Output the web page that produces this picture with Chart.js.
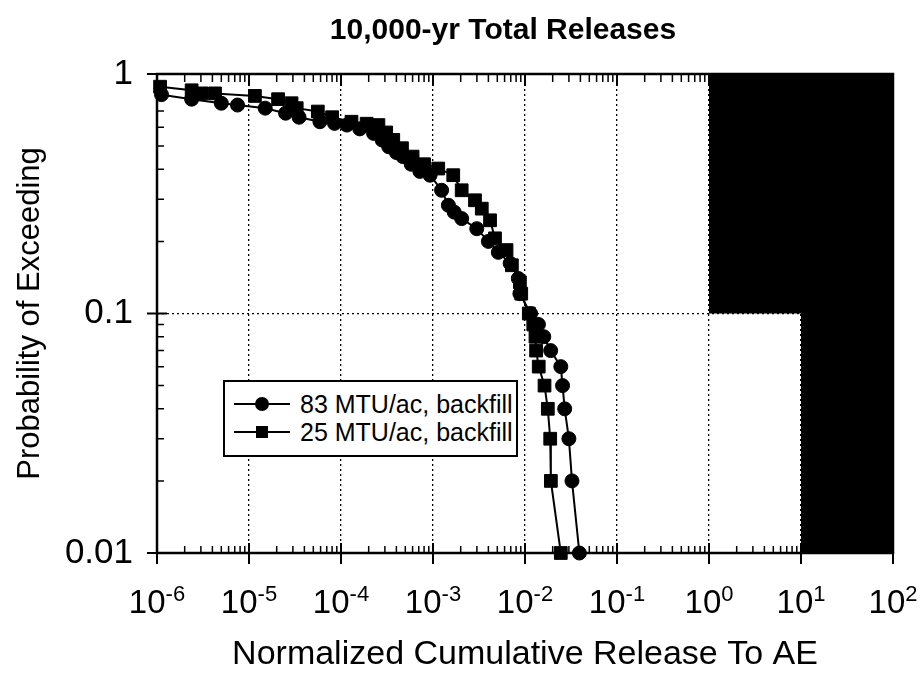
<!DOCTYPE html>
<html>
<head>
<meta charset="utf-8">
<script src="https://cdn.jsdelivr.net/npm/chart.js@4.4.1/dist/chart.umd.min.js"></script>
<style>
  body { margin: 0; background: #fff; }
  #wrap { position: relative; width: 920px; height: 677px; }
  #legend {
    position: absolute; left: 223px; top: 380px; width: 295px; height: 77px;
    box-sizing: border-box; border: 2px solid #000; background: #fff;
    padding: 8px 0 0 9px; font-family: "Liberation Sans", Arial, sans-serif;
    font-size: 25px; color: #000;
  }
  .row { display: flex; align-items: center; height: 28px; }
  .swatch { position: relative; width: 56px; height: 28px; }
  .swatch .ln { position: absolute; left: 0; right: 0; top: 13px; height: 2px; background: #000; }
  .swatch .mk { position: absolute; background: #000; }
  .mk.circle { width: 14px; height: 14px; border-radius: 50%; left: 21px; top: 7px; }
  .mk.rect { width: 12px; height: 12px; left: 22px; top: 8px; }
  .row span { margin-left: 10px; line-height: 28px; white-space: nowrap; }
</style>
</head>
<body>
<div id="wrap">
  <canvas id="chart" width="920" height="677"></canvas>
  <div id="legend"></div>
</div>
<script>
const chartTitle = '10,000-yr Total Releases';
const xTitle = 'Normalized Cumulative Release To AE';
const yTitle = 'Probability of Exceeding';
const seriesNames = ['83 MTU/ac, backfill', '25 MTU/ac, backfill'];
const seriesStyles = ['circle', 'rect'];

// 83 MTU/ac (circles)
const circleX = [1.12e-6, 2.38e-6, 5.0e-6, 7.5e-6, 1.5e-5, 2.5e-5, 3.5e-5, 5.9e-5, 8.5e-5, 1.16e-4,
  1.6e-4, 2.26e-4, 2.8e-4, 3.3e-4, 4.0e-4, 4.7e-4, 5.8e-4, 7.2e-4, 9.3e-4, 1.24e-3,
  1.47e-3, 1.7e-3, 2.05e-3, 2.99e-3, 4.0e-3, 5.13e-3, 6.9e-3, 8.46e-3, 8.8e-3, 0.0115,
  0.0140, 0.0160, 0.0190, 0.0245, 0.0256, 0.0270, 0.0300, 0.0324, 0.0390];
const circleY = [0.82, 0.785, 0.755, 0.742, 0.72, 0.686, 0.66, 0.632, 0.622, 0.612,
  0.59, 0.565, 0.53, 0.497, 0.47, 0.452, 0.42, 0.392, 0.378, 0.327,
  0.283, 0.265, 0.249, 0.226, 0.20, 0.18, 0.162, 0.14, 0.121, 0.10,
  0.09, 0.08, 0.07, 0.06, 0.05, 0.04, 0.03, 0.02, 0.01];

// 25 MTU/ac (squares)
const squareX = [1.08e-6, 2.38e-6, 3.06e-6, 4.27e-6, 1.16e-5, 2.07e-5, 2.9e-5, 3.3e-5, 5.6e-5, 8.0e-5,
  1.3e-4, 1.9e-4, 2.55e-4, 3.1e-4, 3.7e-4, 4.6e-4, 6.0e-4, 8.0e-4, 1.14e-3, 1.66e-3,
  2.05e-3, 2.86e-3, 3.39e-3, 4.17e-3, 4.72e-3, 6.3e-3, 7.2e-3, 8.8e-3, 9.1e-3, 0.0110,
  0.0123, 0.0130, 0.0132, 0.0141, 0.0163, 0.0177, 0.0188, 0.0191, 0.0245];
const squareY = [0.885, 0.855, 0.83, 0.83, 0.81, 0.785, 0.755, 0.72, 0.697, 0.66,
  0.632, 0.62, 0.612, 0.57, 0.531, 0.49, 0.452, 0.42, 0.403, 0.378,
  0.327, 0.297, 0.274, 0.245, 0.206, 0.184, 0.159, 0.135, 0.121, 0.10,
  0.09, 0.08, 0.07, 0.06, 0.05, 0.04, 0.03, 0.02, 0.01];

// release limit (shaded region above this step line)
const limitX = [1, 10, 10, 100];
const limitY = [0.1, 0.1, 0.01, 0.01];

const xTickValues = [1e-6, 1e-5, 1e-4, 1e-3, 1e-2, 1e-1, 1e0, 1e1, 1e2];
const xTickExps = ['-6', '-5', '-4', '-3', '-2', '-1', '0', '1', '2'];
const yTickValues = [0.01, 0.1, 1];
const yTickLabels = ['0.01', '0.1', '1'];

const FONT = '"Liberation Sans", Arial, sans-serif';

function pts(xs, ys) {
  return xs.map((x, i) => ({ x: x, y: ys[i] }));
}

const axisDecor = {
  id: 'axisDecor',
  afterDraw(chart) {
    const { ctx, chartArea: a, scales: { x, y } } = chart;
    ctx.save();
    ctx.strokeStyle = '#000';

    // minor ticks, pointing inward
    ctx.lineWidth = 1.5;
    ctx.beginPath();
    for (let e = -6; e < 2; e++) {
      for (let k = 2; k <= 9; k++) {
        const px = x.getPixelForValue(k * Math.pow(10, e));
        ctx.moveTo(px, a.bottom); ctx.lineTo(px, a.bottom - 7);
        ctx.moveTo(px, a.top); ctx.lineTo(px, a.top + 8);
      }
    }
    for (let e = -2; e < 0; e++) {
      for (let k = 2; k <= 9; k++) {
        const py = y.getPixelForValue(k * Math.pow(10, e));
        ctx.moveTo(a.left, py); ctx.lineTo(a.left + 7, py);
      }
    }
    ctx.stroke();

    // major ticks
    ctx.lineWidth = 2;
    ctx.beginPath();
    xTickValues.forEach(v => {
      const px = x.getPixelForValue(v);
      ctx.moveTo(px, a.bottom - 10); ctx.lineTo(px, a.bottom + 11);
      ctx.moveTo(px, a.top); ctx.lineTo(px, a.top + 12);
    });
    yTickValues.forEach(v => {
      const py = y.getPixelForValue(v);
      ctx.moveTo(a.left - 10, py); ctx.lineTo(a.left + 10, py);
    });
    ctx.stroke();

    // frame
    ctx.lineWidth = 2.5;
    ctx.strokeRect(a.left, a.top, a.right - a.left, a.bottom - a.top);

    // x tick labels as 10 with superscript exponent
    ctx.fillStyle = '#000';
    ctx.textBaseline = 'alphabetic';
    ctx.textAlign = 'left';
    xTickValues.forEach((v, i) => {
      const px = x.getPixelForValue(v);
      ctx.font = '33px ' + FONT;
      const wb = ctx.measureText('10').width;
      ctx.font = '22px ' + FONT;
      const we = ctx.measureText(xTickExps[i]).width;
      const x0 = px - (wb + we) / 2;
      ctx.font = '33px ' + FONT;
      ctx.fillText('10', x0, a.bottom + 60);
      ctx.font = '22px ' + FONT;
      ctx.fillText(xTickExps[i], x0 + wb, a.bottom + 48);
    });

    // chart title
    ctx.font = 'bold 30px ' + FONT;
    ctx.textAlign = 'center';
    ctx.textBaseline = 'middle';
    ctx.fillText(chartTitle, (a.left + a.right) / 2 - 22, 31);
    ctx.restore();
  }
};

const chart = new Chart(document.getElementById('chart'), {
  type: 'line',
  data: {
    datasets: [
      {
        label: seriesNames[0], data: pts(circleX, circleY),
        borderColor: '#000', borderWidth: 2, backgroundColor: '#000',
        pointStyle: 'circle', pointRadius: 7, pointBackgroundColor: '#000',
        pointBorderColor: '#000', pointBorderWidth: 1, clip: false
      },
      {
        label: seriesNames[1], data: pts(squareX, squareY),
        borderColor: '#000', borderWidth: 2, backgroundColor: '#000',
        pointStyle: 'rect', pointRadius: 9, pointBackgroundColor: '#000',
        pointBorderColor: '#000', pointBorderWidth: 1, clip: false
      },
      {
        label: 'limit', data: pts(limitX, limitY),
        borderWidth: 0, pointRadius: 0, fill: 'end', backgroundColor: '#000'
      }
    ]
  },
  options: {
    responsive: false,
    animation: false,
    devicePixelRatio: 1,
    layout: { padding: { top: 74, right: 27, left: 0, bottom: 0 } },
    plugins: {
      legend: { display: false },
      tooltip: { enabled: false },
      title: { display: false }
    },
    scales: {
      x: {
        type: 'logarithmic', min: 1e-6, max: 100,
        afterBuildTicks: s => { s.ticks = xTickValues.map(v => ({ value: v })); },
        afterFit: s => { s.height = 124; },
        ticks: { display: false },
        grid: { color: '#000', lineWidth: 1.3, drawTicks: false },
        border: { display: false, dash: [2, 3] },
        title: {
          display: true, text: xTitle, color: '#000',
          font: { family: FONT, size: 34 }, padding: { top: 0, bottom: 2 }
        }
      },
      y: {
        type: 'logarithmic', min: 0.01, max: 1,
        afterBuildTicks: s => { s.ticks = yTickValues.map(v => ({ value: v })); },
        afterFit: s => { s.width = 157; },
        ticks: {
          autoSkip: false, padding: 24, color: '#000',
          font: { family: FONT, size: 35 },
          callback: v => {
            const i = yTickValues.findIndex(t => Math.abs(Math.log10(t) - Math.log10(v)) < 1e-6);
            return i >= 0 ? yTickLabels[i] : '';
          }
        },
        grid: { color: '#000', lineWidth: 1.3, drawTicks: false },
        border: { display: false, dash: [2, 3] },
        title: {
          display: true, text: yTitle, color: '#000',
          font: { family: FONT, size: 31 }, padding: { top: 12, bottom: 0 }
        }
      }
    }
  },
  plugins: [axisDecor]
});

// legend built from dataset labels
const legend = document.getElementById('legend');
seriesNames.forEach((name, i) => {
  const row = document.createElement('div');
  row.className = 'row';
  row.innerHTML = '<div class="swatch"><div class="ln"></div><div class="mk ' + seriesStyles[i] + '"></div></div><span>' + name + '</span>';
  legend.appendChild(row);
});
</script>
</body>
</html>
